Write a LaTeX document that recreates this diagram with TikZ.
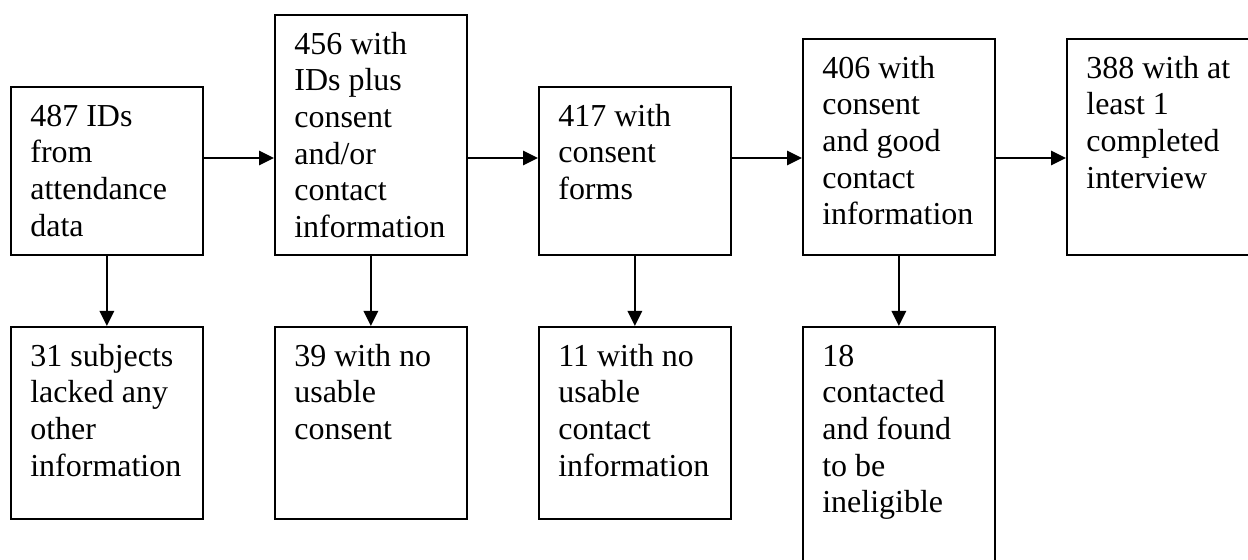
\documentclass[tikz,border=0pt]{standalone}
\usepackage{fontspec}
\setmainfont{Liberation Serif}
\usetikzlibrary{arrows.meta}
\tikzset{
	stagebox/.style={draw, line width=1pt, inner sep=0pt, minimum width=3.84cm, anchor=north west},
	stagetext/.style={anchor=north west, align=left, inner sep=0pt, font=\fontsize{18.2}{20.8}\selectfont},
	flow/.style={line width=1pt, -{Triangle[length=0.3cm,width=0.29cm]}}
}

\begin{document}
\begin{tikzpicture}
		%%%%% START %%%%%
		\useasboundingbox (0, 0) rectangle (24.96, 11.2);
		\clip (0, 0) rectangle (24.96, 11.2);
		
		% main line
		\node[stagebox, minimum height=3.36cm] (ids) at (0.2, 9.48) {};
		\node[stagebox, minimum height=4.8cm] (plus) at (5.48, 10.92) {};
		\node[stagebox, minimum height=3.36cm] (forms) at (10.76, 9.48) {};
		\node[stagebox, minimum height=4.32cm] (good) at (16.04, 10.44) {};
		\node[stagebox, minimum height=4.32cm] (done) at (21.32, 10.44) {};
		
		% drop-outs
		\node[stagebox, minimum height=3.84cm] (lacked) at (0.2, 4.68) {};
		\node[stagebox, minimum height=3.84cm] (noconsent) at (5.48, 4.68) {};
		\node[stagebox, minimum height=3.84cm] (nocontact) at (10.76, 4.68) {};
		\node[stagebox, minimum height=4.8cm] (inelig) at (16.04, 4.68) {};
		
		\node[stagetext] (ids-t) at ([shift={(0.4,-0.29)}]ids.north west) {\strut 487 IDs\\from\\attendance\\data};
		\node[stagetext] (plus-t) at ([shift={(0.4,-0.29)}]plus.north west) {\strut 456 with\\IDs plus\\consent\\and/or\\contact\\information};
		\node[stagetext] (forms-t) at ([shift={(0.4,-0.29)}]forms.north west) {\strut 417 with\\consent\\forms};
		\node[stagetext] (good-t) at ([shift={(0.4,-0.29)}]good.north west) {\strut 406 with\\consent\\and good\\contact\\information};
		\node[stagetext] (done-t) at ([shift={(0.4,-0.29)}]done.north west) {\strut 388 with at\\least 1\\completed\\interview};
		
		\node[stagetext] (lacked-t) at ([shift={(0.4,-0.29)}]lacked.north west) {\strut 31 subjects\\lacked any\\other\\information};
		\node[stagetext] (noconsent-t) at ([shift={(0.4,-0.29)}]noconsent.north west) {\strut 39 with no\\usable\\consent};
		\node[stagetext] (nocontact-t) at ([shift={(0.4,-0.29)}]nocontact.north west) {\strut 11 with no\\usable\\contact\\information};
		\node[stagetext] (inelig-t) at ([shift={(0.4,-0.29)}]inelig.north west) {\strut 18\\contacted\\and found\\to be\\ineligible};
		
		% arrows
		\coordinate (lane) at (0, 8.04);
		\draw[flow] (ids.east |- lane) -- (plus.west |- lane);
		\draw[flow] (plus.east |- lane) -- (forms.west |- lane);
		\draw[flow] (forms.east |- lane) -- (good.west |- lane);
		\draw[flow] (good.east |- lane) -- (done.west |- lane);
		
		\draw[flow] (ids.south) -- (lacked.north);
		\draw[flow] (plus.south) -- (noconsent.north);
		\draw[flow] (forms.south) -- (nocontact.north);
		\draw[flow] (good.south) -- (inelig.north);
		%%%%% END %%%%%
	\end{tikzpicture}
\end{document}
